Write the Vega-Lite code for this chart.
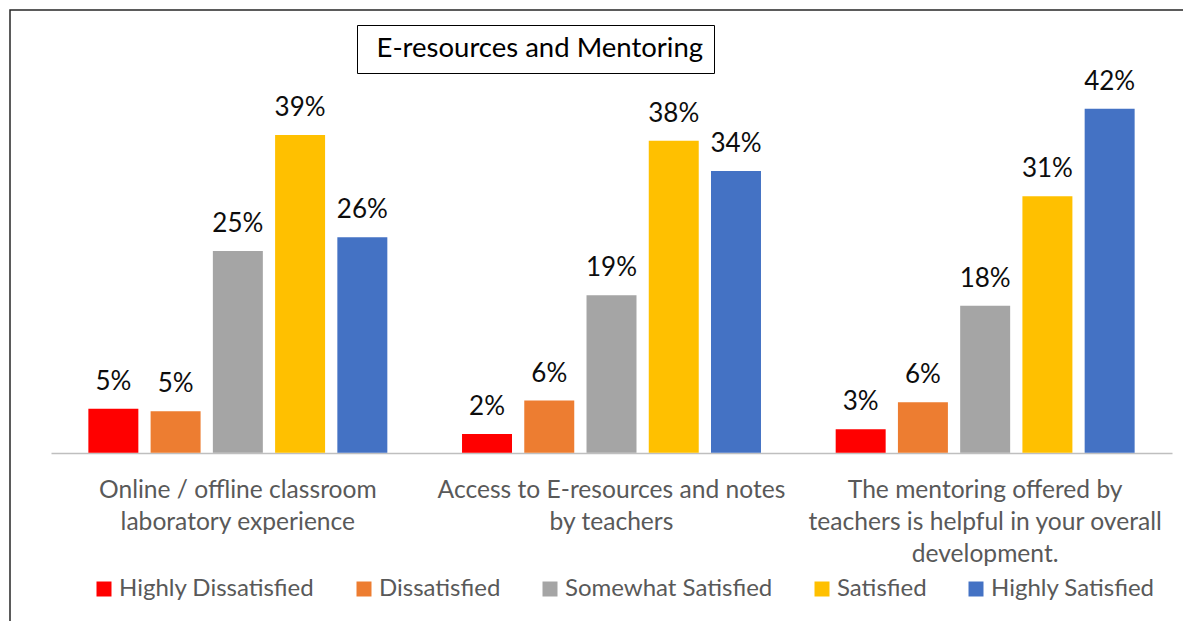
{
  "$schema": "https://vega.github.io/schema/vega-lite/v6.json",
  "width": 1183,
  "height": 621,
  "autosize": {"type": "none"},
  "padding": {"left": 10, "top": 10, "right": -10, "bottom": -10},
  "background": "white",
  "config": {
    "font": "Lato",
    "view": {"stroke": "#262626", "strokeWidth": 1.5}
  },
  "data": {
    "values": [
      {"item": "Online / offline classroom laboratory experience", "level": "Highly Dissatisfied", "value": 5.4, "label": "5%"},
      {"item": "Online / offline classroom laboratory experience", "level": "Dissatisfied", "value": 5.1, "label": "5%"},
      {"item": "Online / offline classroom laboratory experience", "level": "Somewhat Satisfied", "value": 24.7, "label": "25%"},
      {"item": "Online / offline classroom laboratory experience", "level": "Satisfied", "value": 38.9, "label": "39%"},
      {"item": "Online / offline classroom laboratory experience", "level": "Highly Satisfied", "value": 26.4, "label": "26%"},
      {"item": "Access to E-resources and notes by teachers", "level": "Highly Dissatisfied", "value": 2.3, "label": "2%"},
      {"item": "Access to E-resources and notes by teachers", "level": "Dissatisfied", "value": 6.4, "label": "6%"},
      {"item": "Access to E-resources and notes by teachers", "level": "Somewhat Satisfied", "value": 19.3, "label": "19%"},
      {"item": "Access to E-resources and notes by teachers", "level": "Satisfied", "value": 38.2, "label": "38%"},
      {"item": "Access to E-resources and notes by teachers", "level": "Highly Satisfied", "value": 34.5, "label": "34%"},
      {"item": "The mentoring offered by teachers is helpful in your overall development.", "level": "Highly Dissatisfied", "value": 2.9, "label": "3%"},
      {"item": "The mentoring offered by teachers is helpful in your overall development.", "level": "Dissatisfied", "value": 6.2, "label": "6%"},
      {"item": "The mentoring offered by teachers is helpful in your overall development.", "level": "Somewhat Satisfied", "value": 18.0, "label": "18%"},
      {"item": "The mentoring offered by teachers is helpful in your overall development.", "level": "Satisfied", "value": 31.4, "label": "31%"},
      {"item": "The mentoring offered by teachers is helpful in your overall development.", "level": "Highly Satisfied", "value": 42.1, "label": "42%"}
    ]
  },
  "encoding": {
    "x": {
      "field": "item",
      "type": "nominal",
      "sort": null,
      "scale": {"paddingInner": 0, "paddingOuter": 0.083, "align": 0.6613},
      "axis": {
        "title": null,
        "orient": "bottom",
        "offset": -178,
        "domain": true,
        "domainColor": "#BFBFBF",
        "domainWidth": 1.3,
        "domainDash": [0, 41, 1121, 3000],
        "ticks": false,
        "tickSize": 0,
        "grid": false,
        "labelAngle": 0,
        "labelFontSize": 24.6,
        "labelColor": "#595959",
        "labelPadding": 25,
        "labelLineHeight": 32,
        "labelLimit": 0,
        "labelOverlap": false,
        "labelBound": false,
        "labelExpr": "datum.value == 'Online / offline classroom laboratory experience' ? ['Online / offline classroom', 'laboratory experience'] : datum.value == 'Access to E-resources and notes by teachers' ? ['Access to E-resources and notes', 'by teachers'] : ['The mentoring offered by', 'teachers is helpful in your overall', 'development.']"
      }
    },
    "y": {
      "field": "value",
      "type": "quantitative",
      "scale": {"domain": [-21.8, 54.2], "nice": false, "zero": false},
      "axis": null
    }
  },
  "layer": [
    {
      "mark": {"type": "bar"},
      "encoding": {
        "xOffset": {
          "field": "level",
          "type": "nominal",
          "sort": ["Highly Dissatisfied", "Dissatisfied", "Somewhat Satisfied", "Satisfied", "Highly Satisfied"],
          "scale": {"paddingInner": 0.197, "paddingOuter": 0.6}
        },
        "color": {
          "field": "level",
          "type": "nominal",
          "sort": ["Highly Dissatisfied", "Dissatisfied", "Somewhat Satisfied", "Satisfied", "Highly Satisfied"],
          "scale": {
            "domain": ["Highly Dissatisfied", "Dissatisfied", "Somewhat Satisfied", "Satisfied", "Highly Satisfied"],
            "range": ["#FF0000", "#ED7D31", "#A5A5A5", "#FFC000", "#4472C4"]
          },
          "legend": {
            "title": null,
            "orient": "none",
            "legendX": 82,
            "legendY": 567,
            "direction": "horizontal",
            "columns": 5,
            "columnPadding": 37,
            "symbolType": "square",
            "symbolSize": 225,
            "symbolStrokeWidth": 0,
            "symbolOpacity": 1,
            "labelFontSize": 24,
            "labelColor": "#595959",
            "labelOffset": 3,
            "labelLimit": 0,
            "padding": 0
          }
        }
      }
    },
    {
      "mark": {"type": "text", "baseline": "alphabetic", "dy": -19, "fontSize": 26, "color": "#0d0d0d"},
      "encoding": {
        "xOffset": {
          "field": "level",
          "type": "nominal",
          "sort": ["Highly Dissatisfied", "Dissatisfied", "Somewhat Satisfied", "Satisfied", "Highly Satisfied"],
          "scale": {"paddingInner": 0.197, "paddingOuter": 0.6}
        },
        "text": {"field": "label"},
        "opacity": {
          "datum": "E-resources and Mentoring",
          "type": "ordinal",
          "scale": {"range": [1, 1]},
          "legend": {
            "title": null,
            "orient": "none",
            "legendX": 347,
            "legendY": 15,
            "padding": 10,
            "strokeColor": "#000000",
            "symbolOpacity": 0,
            "symbolStrokeWidth": 0,
            "symbolSize": 0,
            "symbolFillColor": "transparent",
            "labelOffset": -18,
            "labelFontSize": 27.5,
            "labelColor": "#000000",
            "labelLimit": 0
          }
        }
      }
    }
  ]
}
